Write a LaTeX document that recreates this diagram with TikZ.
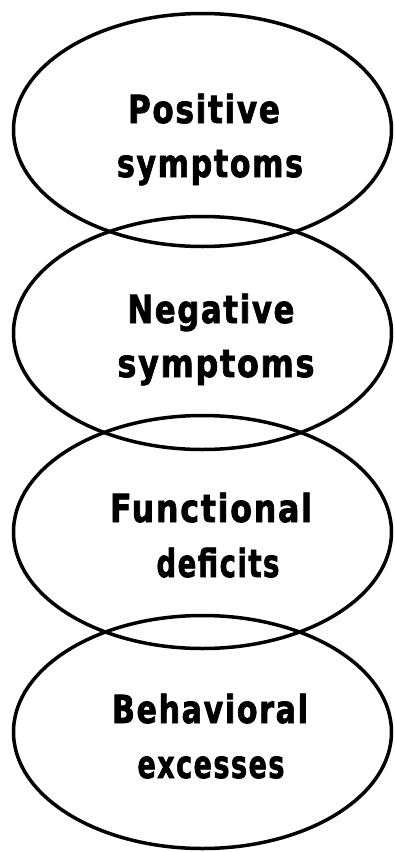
\documentclass[tikz,border=0pt]{standalone}
\usepackage{fontspec}
\setmainfont{DejaVu Sans Condensed}
\newfontfamily\lblfont[LetterSpace=5,FakeBold=2]{DejaVu Sans Condensed}
\usetikzlibrary{shapes.geometric}
\newsavebox\wbox
\newcommand\fitw[2]{\sbox\wbox{#2}\pgfmathsetmacro\wratio{#1/\wd\wbox}\scalebox{\wratio}[1.17]{\usebox\wbox}}
\begin{document}
\begin{tikzpicture}[x=1pt,y=-1pt,
  oval/.style={draw=black,line width=3.5pt,ellipse,minimum width=378pt,minimum height=233pt,inner sep=0pt},
  lbl/.style={anchor=base,inner sep=0pt,font=\lblfont\fontsize{33}{36}\selectfont\bfseries}]
\useasboundingbox (0,0) rectangle (395,852);
\node[oval] (e1) at (202.5,130) {};
\node[oval] (e2) at (202.5,333) {};
\node[oval] (e3) at (202.5,532) {};
\node[oval] (e4) at (202.5,732) {};
\node[lbl] (t1a) at (204,123) {\fitw{152}{Positive}};
\node[lbl] (t1b) at (210,177) {\fitw{186}{symptoms}};
\node[lbl] (t2a) at (211,323) {\fitw{167}{Negative}};
\node[lbl] (t2b) at (216,377) {\fitw{197}{symptoms}};
\node[lbl] (t3a) at (211,522) {\fitw{202}{Functional}};
\node[lbl] (t3b) at (218,577) {\fitw{123}{deficits}};
\node[lbl] (t4a) at (210,723) {\fitw{196}{Behavioral}};
\node[lbl] (t4b) at (211,778) {\fitw{147}{excesses}};
\end{tikzpicture}
\end{document}
